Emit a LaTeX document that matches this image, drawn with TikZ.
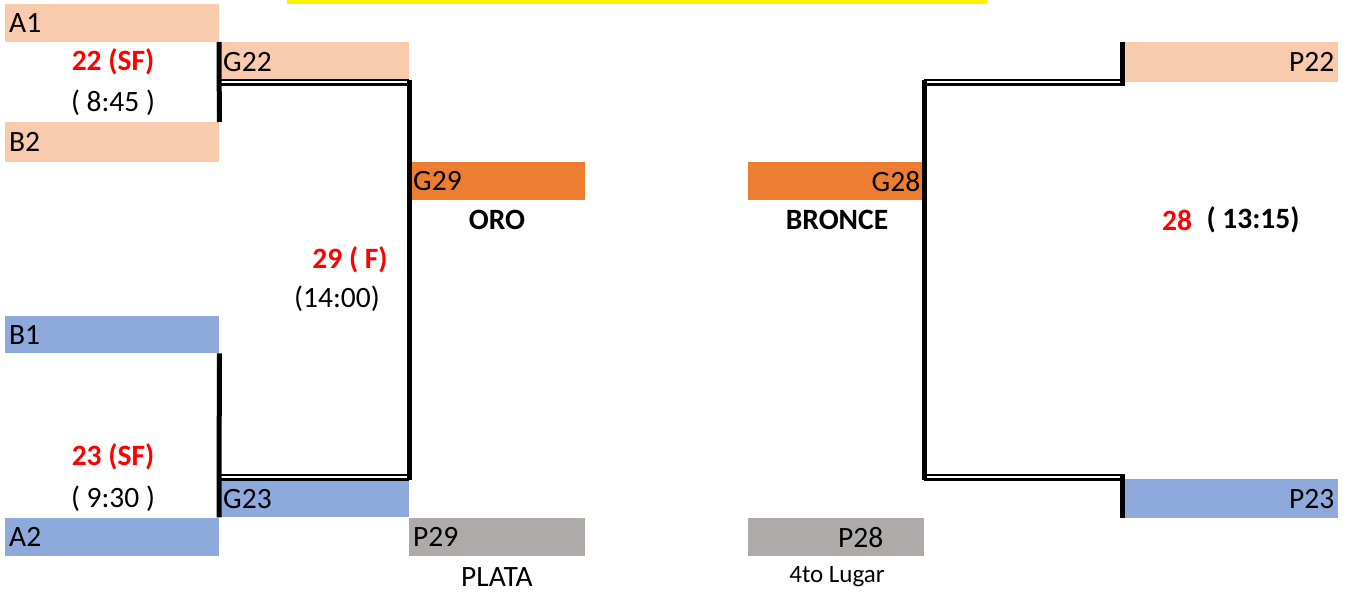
\documentclass[tikz,border=0pt]{standalone}
\usepackage{fontspec}
\setmainfont{Carlito}
\definecolor{peach}{HTML}{F8CBAD}
\definecolor{azul}{HTML}{8EA9DB}
\definecolor{naranja}{HTML}{ED7D31}
\definecolor{gris}{HTML}{AEAAAA}
\tikzset{
  cell/.style={anchor=north west, minimum height=38pt, inner xsep=4pt, inner ysep=0pt, text width=#1, align=left},
  rcell/.style={cell=#1, align=right},
  bar/.style={line width=5pt},
  dbl/.style={double, double distance=2pt, line width=2.5pt},
  redlbl/.style={text=red, font=\fontsize{29.5}{34}\selectfont\bfseries},
  boldlbl/.style={font=\fontsize{29.5}{34}\selectfont\bfseries}
}
\begin{document}
\begin{tikzpicture}[x=1pt, y=-1pt, font=\fontsize{29.5}{34}\selectfont]
        \useasboundingbox (0,0) rectangle (1346,593);
        \fill [yellow] (287,0) rectangle (987,4);
        % boxes left
        \node [cell=206pt, fill=peach] (a1) at (5,4) {A1};
        \node [cell=182pt, fill=peach, minimum height=40pt] (g22) at (219,42) {G22};
        \node [cell=206pt, fill=peach, minimum height=40pt] (b2) at (5,122) {B2};
        \node [cell=168pt, fill=naranja] (g29) at (409,162) {G29};
        \node [cell=206pt, fill=azul, minimum height=37pt] (b1) at (5,316) {B1};
        \node [cell=182pt, fill=azul, minimum height=37pt] (g23) at (219,480) {G23};
        \node [cell=206pt, fill=azul] (a2) at (5,518) {A2};
        \node [cell=168pt, fill=gris] (p29) at (409,518) {P29};
        % boxes right
        \node [rcell=168pt, fill=naranja] (g28) at (748,162) {G28};
        \node [cell=168pt, fill=gris] (p28) at (748,518) {\hspace*{86pt}P28};
        \node [rcell=205pt, fill=peach, minimum height=40pt] (p22) at (1125,42) {P22};
        \node [rcell=205pt, fill=azul, minimum height=39pt] (p23) at (1125,479) {P23};
        % lines left
        \draw [dbl] (g22.south west) -- (g22.south east);
        \draw [dbl] ([yshift=3pt]g23.north west) -- ([yshift=3pt]g23.north east);
        \draw [bar] (g22.north west) -- (b2.north east);
        \draw [bar] (b1.south east) -- (g23.south west);
        \draw [bar] ([yshift=2.5pt]g22.south east) -- ([yshift=0.5pt]g23.north east);
        % lines right
        \draw [dbl] (p22.south west -| g28.east) -- (p22.south west);
        \draw [dbl] ([yshift=2pt]p23.north west -| g28.east) -- ([yshift=2pt]p23.north west);
        \draw [bar] ([yshift=2.5pt]p22.south west -| g28.east) -- ([yshift=-0.5pt]p23.north west -| g28.east);
        \draw [bar] ([xshift=-3pt]p22.north west) -- ([xshift=-3pt,yshift=-2.5pt]p22.south west);
        \draw [bar] ([xshift=-3pt,yshift=4.5pt]p23.north west) -- ([xshift=-3pt]p23.south west);
        % labels
        \node [redlbl] (sf22) at (113,62) {22 (SF)};
        \node (h22) at (113,103) {( 8:45 )};
        \node [redlbl] (sf23) at (113,457) {23 (SF)};
        \node (h23) at (113,499) {( 9:30 )};
        \node [redlbl] (f29) at (350,260) {29 ( F)};
        \node (h29) at (337,299) {(14:00)};
        \node [boldlbl] (oro) at (497,220) {ORO};
        \node (plata) at (497,577) {PLATA};
        \node [boldlbl] (bronce) at (837,220) {BRONCE};
        \node [font=\fontsize{25}{30}\selectfont] (cuarto) at (837,577) {4to Lugar};
        \node [redlbl] (n28) at (1177,220) {28};
        \node [boldlbl] (h28) at (1253,220) {( 13:15)};
\end{tikzpicture}
\end{document}
